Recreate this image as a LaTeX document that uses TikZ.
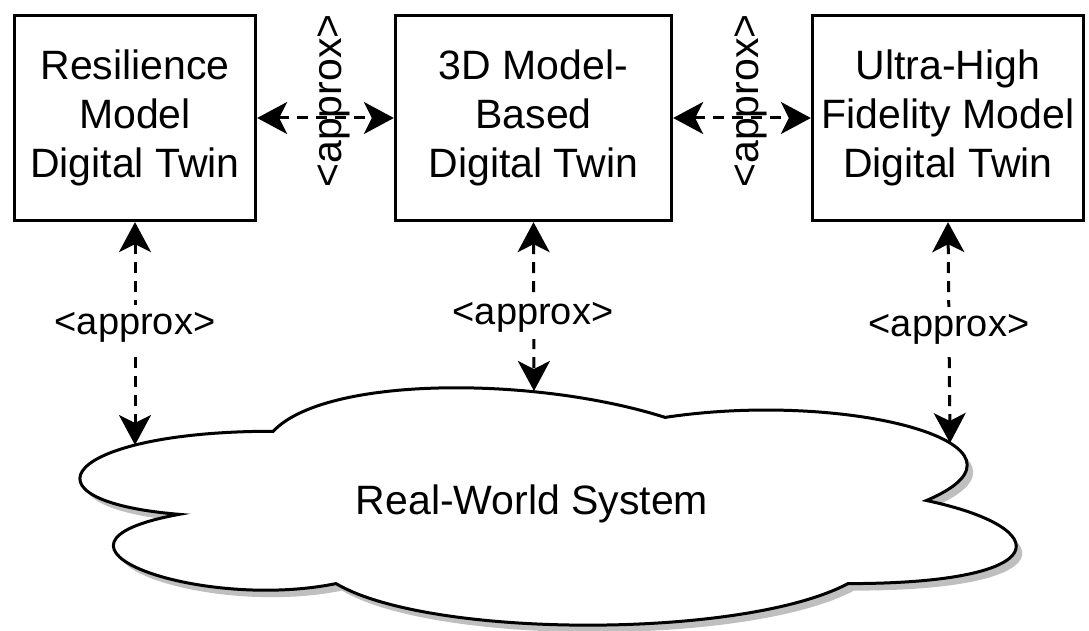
\documentclass[tikz,border=0pt]{standalone}
\usepackage{fontspec}
\setmainfont{Liberation Sans}
\usetikzlibrary{arrows.meta}
\begin{document}
\begin{tikzpicture}[x=1pt,y=-1pt,
  box/.style={draw,line width=3.3pt,fill=white,align=center,font=\fontsize{41}{49}\selectfont,inner sep=0pt},
  tipA/.tip={Stealth[length=30pt,width=32pt,inset=8pt]},
  conn/.style={line width=3pt,dash pattern=on 11pt off 8pt,tipA-tipA},
  hlab/.style={fill=white,font=\fontsize{38}{45}\selectfont,inner xsep=1pt,inner ysep=7pt},
  vlab/.style={rotate=90,font=\fontsize{41}{49}\selectfont,inner sep=0pt},
  cloudline/.style={line width=3pt,fill=white,line join=miter},
  cloudshadow/.style={fill=black!25,draw=none}
]
\useasboundingbox (0,0) rectangle (1089,631);
% cloud shadow
\fill[cloudshadow,shift={(6,7)}] (273.25,431.25)
  .. controls (64.25,431.25) and (12,500.5) .. (179.2,514.35)
  .. controls (12,544.8) and (200.1,611.3) .. (335.95,583.6)
  .. controls (430,639) and (743.5,639) .. (848,583.6)
  .. controls (1057,583.6) and (1057,528.2) .. (926.4,500.5)
  .. controls (1057,445.1) and (848,389.7) .. (665.1,417.4)
  .. controls (534.5,375.85) and (325.5,375.85) .. (273.25,431.25) -- cycle;
% cloud
\draw[cloudline] (273.25,431.25)
  .. controls (64.25,431.25) and (12,500.5) .. (179.2,514.35)
  .. controls (12,544.8) and (200.1,611.3) .. (335.95,583.6)
  .. controls (430,639) and (743.5,639) .. (848,583.6)
  .. controls (1057,583.6) and (1057,528.2) .. (926.4,500.5)
  .. controls (1057,445.1) and (848,389.7) .. (665.1,417.4)
  .. controls (534.5,375.85) and (325.5,375.85) .. (273.25,431.25) -- cycle;
\node[font=\fontsize{41}{49}\selectfont,inner sep=0pt] (rw) at (532,504) {Real-World System};
\coordinate (c1) at (135,445);
\coordinate (c2) at (534,391);
\coordinate (c3) at (950,443);
% boxes
\node[box,minimum width=241pt,minimum height=205pt] (b1) at (135,118) {Resilience\\Model\\Digital Twin};
\node[box,minimum width=276pt,minimum height=205pt] (b2) at (533.5,118) {3D Model-\\Based\\Digital Twin};
\node[box,minimum width=271pt,minimum height=205pt] (b3) at (948,118) {Ultra-High\\Fidelity Model\\Digital Twin};
% connectors
\draw[conn] (b1.east) -- (b2.west);
\draw[conn] (b2.east) -- (b3.west);
\draw[conn] (b1.south) -- (c1);
\draw[conn] (b2.south) -- (c2);
\draw[conn] (b3.south) -- (c3);
% labels
\node[vlab] (l12) at (334,101) {<approx>};
\node[vlab] (l23) at (751,101) {<approx>};
\node[hlab] (l1) at (135,327) {<approx>};
\node[hlab] (l2) at (533,317) {<approx>};
\node[hlab] (l3) at (949,329) {<approx>};
\end{tikzpicture}
\end{document}
